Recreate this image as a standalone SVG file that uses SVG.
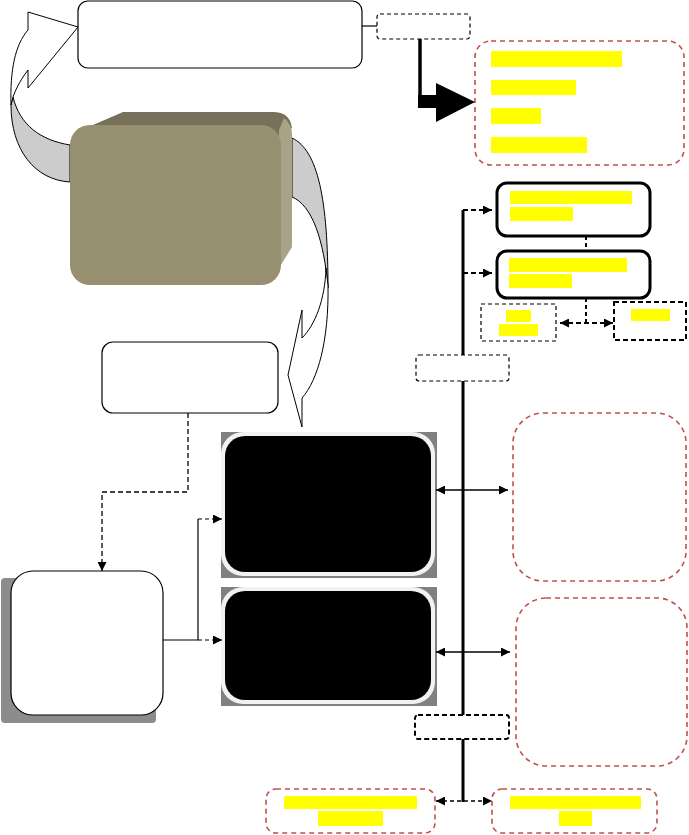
<svg xmlns="http://www.w3.org/2000/svg" width="689" height="835" viewBox="0 0 689 835">
<style>
.ol{fill:#fff;stroke:#000;stroke-width:1.2}
.rd{fill:#fff;stroke:#c0504d;stroke-width:1.6;stroke-dasharray:5,4}
.kd{fill:#fff;stroke:#000;stroke-width:1.2;stroke-dasharray:4,3}
.kd2{fill:#fff;stroke:#000;stroke-width:2;stroke-dasharray:5,3}
.tk{fill:#fff;stroke:#000;stroke-width:3}
.y{fill:#ffff00}
.c{fill:none;stroke:#000}
</style>
<defs>
<marker id="ah" viewBox="0 0 10 10" refX="10" refY="5" markerWidth="9" markerHeight="9" markerUnits="userSpaceOnUse" orient="auto-start-reverse">
<path d="M0,0 L10,5 L0,10 z" fill="#000"/>
</marker>
</defs>
<rect width="689" height="835" fill="#fff"/>

<g id="curved-arrows">
<path d="M70,145 C40,140 20,125 13,97 L11,105 C11,150 35,180 70,182 Z" fill="#cccccc" stroke="#000" stroke-width="1"/>
<path d="M13,97 C17,86 22,78 28,70 L28,88 L78,27 L28,12 L28,30 C15,45 10,70 11,105 Z" fill="#fff" stroke="#000" stroke-width="1"/>
<path d="M292,138 C318,150 328,200 328,288 C324,240 312,205 292,197 Z" fill="#cccccc" stroke="#000" stroke-width="1"/>
<path d="M326,268 C325,300 315,325 302,338 L302,310 L288,375 L302,427 L302,398 C318,380 329,340 328,285 Z" fill="#fff" stroke="#000" stroke-width="1"/>
</g>

<g id="top-box"><rect x="78" y="1" width="284" height="67" rx="10" class="ol"/></g>

<g id="olive-box">
<path d="M86,128 L123,112 L273,112 Q290,112 292,128 L280,136 Z" fill="#77715b"/>
<path d="M279,130 L284,118 Q292,124 292,134 L292,247 L279,268 Z" fill="#a8a387"/>
<rect x="70" y="125" width="211" height="160" rx="20" fill="#969070"/>
</g>

<g id="label-left"><rect x="102" y="342" width="176" height="71" rx="11" class="ol"/></g>

<g id="white-box">
<rect x="1" y="578" width="155" height="145" rx="4" fill="#8c8c8c"/>
<rect x="11" y="571" width="152" height="144" rx="22" class="ol"/>
</g>

<g id="black-box-1">
<rect x="221" y="432" width="216" height="146" fill="#808080"/>
<rect x="221" y="432" width="214" height="144" rx="22" fill="#f2f2f2"/>
<rect x="225" y="436" width="206" height="136" rx="20" fill="#000"/>
</g>
<g id="black-box-2">
<rect x="221" y="587" width="216" height="119" fill="#808080"/>
<rect x="221" y="587" width="214" height="117" rx="22" fill="#f2f2f2"/>
<rect x="225" y="591" width="206" height="109" rx="20" fill="#000"/>
</g>

<g id="top-label"><rect x="377" y="14" width="93" height="25" rx="3" class="kd"/></g>

<g id="red-list">
<rect x="475" y="41" width="209" height="124" rx="16" class="rd"/>
<rect x="491" y="51" width="131" height="16" class="y"/>
<rect x="491" y="80" width="85" height="15" class="y"/>
<rect x="491" y="108" width="50" height="16" class="y"/>
<rect x="491" y="137" width="96" height="16" class="y"/>
</g>

<g id="box-a">
<rect x="497" y="183" width="153" height="53" rx="10" class="tk"/>
<rect x="510" y="191" width="122" height="13" class="y"/>
<rect x="510" y="207" width="63" height="14" class="y"/>
</g>
<g id="box-b">
<rect x="497" y="251" width="153" height="47" rx="10" class="tk"/>
<rect x="509" y="258" width="118" height="14" class="y"/>
<rect x="509" y="274" width="63" height="14" class="y"/>
</g>
<g id="box-c">
<rect x="481" y="304" width="75" height="37" class="kd"/>
<rect x="506" y="310" width="25" height="12" class="y"/>
<rect x="499" y="324" width="39" height="12" class="y"/>
</g>
<g id="box-d">
<rect x="614" y="302" width="72" height="38" class="kd2"/>
<rect x="631" y="309" width="39" height="12" class="y"/>
</g>

<g id="mid-label-1"><rect x="416" y="355" width="93" height="26" rx="3" class="kd"/></g>
<g id="mid-label-2"><rect x="415" y="715" width="94" height="24" rx="3" class="kd2"/></g>

<g id="red-box-1"><rect x="513" y="413" width="173" height="168" rx="30" class="rd"/></g>
<g id="red-box-2"><rect x="516" y="598" width="171" height="168" rx="30" class="rd"/></g>

<g id="bottom-left">
<rect x="266" y="789" width="169" height="44" rx="10" class="rd"/>
<rect x="284" y="796" width="133" height="13" class="y"/>
<rect x="318" y="811" width="65" height="15" class="y"/>
</g>
<g id="bottom-right">
<rect x="492" y="789" width="165" height="44" rx="10" class="rd"/>
<rect x="510" y="796" width="131" height="13" class="y"/>
<rect x="559" y="811" width="33" height="15" class="y"/>
</g>

<g id="connectors">
<line x1="362" y1="26" x2="377" y2="26" class="c" stroke-width="1.2"/>
<path d="M420,39 V100" class="c" stroke-width="3.5"/>
<path d="M418,95 H437 V108 H418 Z" fill="#000"/>
<path d="M436,83 L475,102 L436,122 Z" fill="#000"/>

<path d="M188,413 V492 H102 V571" class="c" stroke-width="1.3" stroke-dasharray="5,3" marker-end="url(#ah)"/>
<path d="M163,640 H198 V519" class="c" stroke-width="1.2"/>
<path d="M198,519 H222" class="c" stroke-width="1.2" stroke-dasharray="4,3" marker-end="url(#ah)"/>
<path d="M198,640 H222" class="c" stroke-width="1.2" stroke-dasharray="4,3" marker-end="url(#ah)"/>

<path d="M463,210 V355 M463,381 V715 M463,739 V802" class="c" stroke-width="3"/>
<path d="M463,210 H492" class="c" stroke-width="2" stroke-dasharray="5,3" marker-end="url(#ah)"/>
<path d="M463,273 H492" class="c" stroke-width="2" stroke-dasharray="5,3" marker-end="url(#ah)"/>
<path d="M586,236 V251" class="c" stroke-width="2" stroke-dasharray="4,3"/>
<path d="M586,298 V323" class="c" stroke-width="2" stroke-dasharray="4,3"/>
<path d="M560,323 H613" class="c" stroke-width="2" stroke-dasharray="5,3" marker-start="url(#ah)" marker-end="url(#ah)"/>

<path d="M436,490 H508" class="c" stroke-width="1.5" marker-start="url(#ah)" marker-end="url(#ah)"/>
<path d="M436,652 H510" class="c" stroke-width="1.5" marker-start="url(#ah)" marker-end="url(#ah)"/>
<path d="M436,801 H492" class="c" stroke-width="1.5" stroke-dasharray="4,3" marker-start="url(#ah)" marker-end="url(#ah)"/>
</g>
</svg>
